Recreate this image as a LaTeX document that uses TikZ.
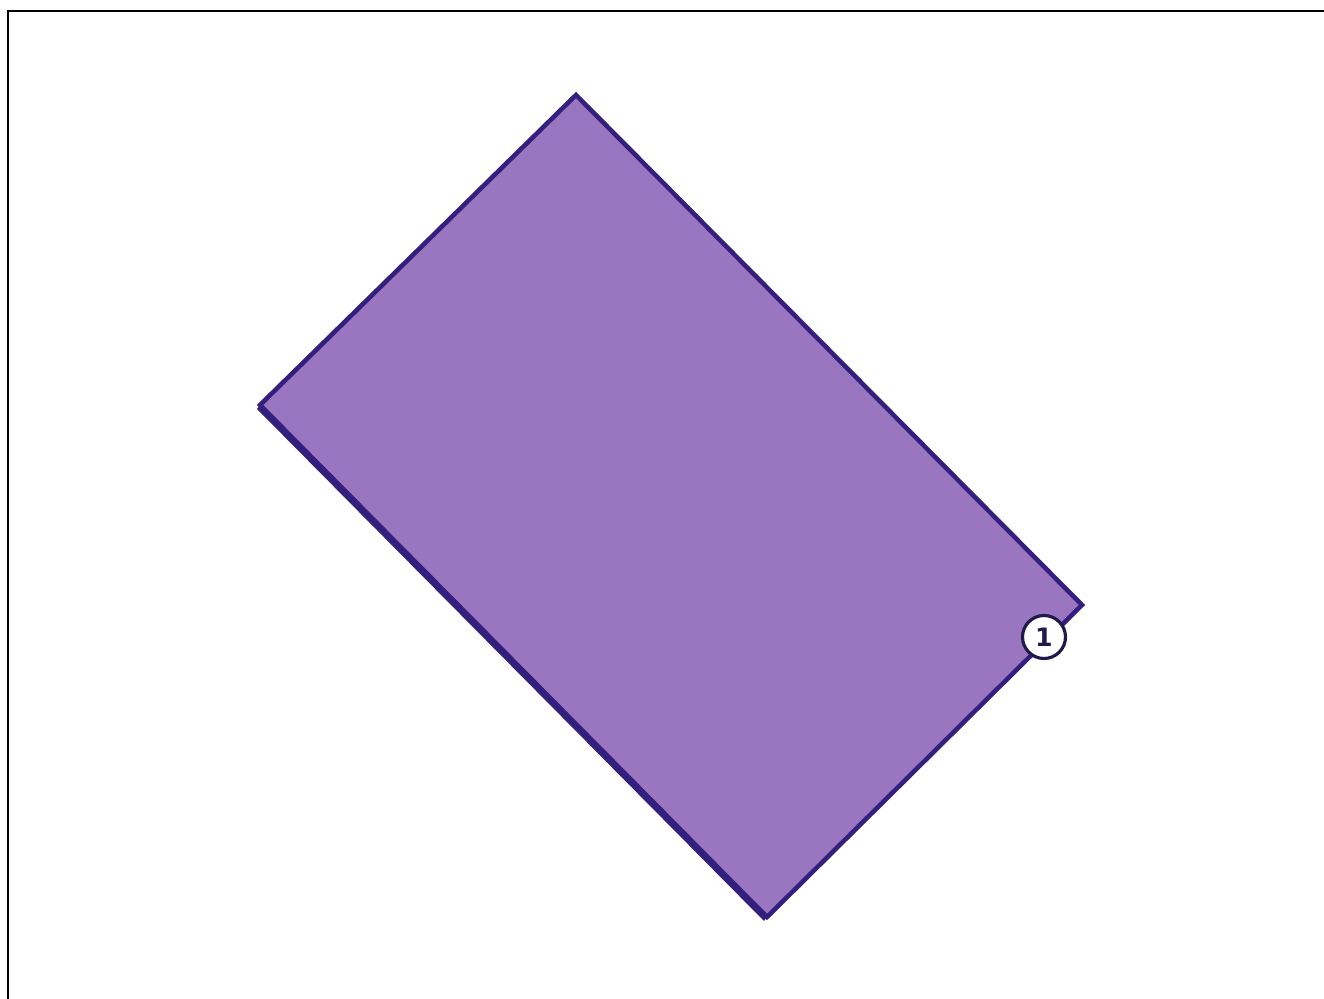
\documentclass[tikz,border=0pt]{standalone}
\usepackage{fontspec}
\setsansfont{DejaVu Sans}
\definecolor{sheetfill}{HTML}{9A75C0}
\definecolor{sheetedge}{HTML}{33207E}
\definecolor{markink}{HTML}{1F1A4A}
\tikzset{
  marker/.style={circle,draw=markink,line width=1.8pt,fill=white,
    minimum size=0.86cm,inner sep=0pt,font=\sffamily\bfseries\Large,text=markink}
}
\begin{document}
\begin{tikzpicture}[x=0.02cm,y=-0.02cm]
\useasboundingbox (0,0) rectangle (1324,999);
\draw[line width=1.2pt] (8,999) -- (8,11) -- (1324,11);

\coordinate (top) at (576,95);
\coordinate (right) at (1082,605);
\coordinate (bottom) at (767,917);
\coordinate (left) at (260,405);

\fill[sheetedge] ([shift={(-3,4)}]left) -- ([shift={(-3,4)}]bottom) -- (bottom) -- (left) -- cycle;
\draw[fill=sheetfill,draw=sheetedge,line width=2.6pt,line join=miter]
  (top) -- (right) -- (bottom) -- (left) -- cycle;

\node[marker] (one) at (1044,637) {1};
\end{tikzpicture}
\end{document}
